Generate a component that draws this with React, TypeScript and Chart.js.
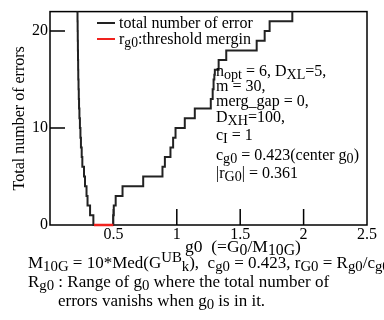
import React, { useEffect, useRef } from 'react';
import { Chart, registerables } from 'chart.js';

Chart.register(...registerables);

// ---- data ----
// stepped curve: level errY[i] holds from errX[i] to errX[i+1]
const errX = [
  0.212, 0.2155, 0.217, 0.218, 0.219, 0.22, 0.221, 0.222, 0.223, 0.225, 0.227, 0.229, 0.232,
  0.236, 0.24, 0.244, 0.25, 0.255, 0.268, 0.276, 0.288, 0.296, 0.316, 0.342,
  0.498, 0.503, 0.518, 0.572, 0.735, 0.887, 0.906, 0.95, 0.971, 0.99, 1.063, 1.142,
  1.268, 1.283, 1.29, 1.296, 1.3, 1.33, 1.39, 1.63, 1.693, 1.732, 1.911,
];
const errY = [
  24, 22, 21, 20, 19, 18, 17, 16, 15, 14, 13, 12, 11,
  10, 9, 8, 7, 6, 5, 4, 3, 2, 1, 0,
  1, 2, 3, 4, 5, 6, 7, 8, 9, 10, 11, 12,
  13, 14, 15, 15.5, 16, 17, 18, 19, 20, 21, 24,
];
const marginX = [0.347, 0.499];
const marginY = [0, 0];
const xMin = 0;
const xMax = 2.5;
const xStep = 0.5;
const yMin = 0;
const yMax = 22;
const yStep = 10;

const FONT = '"Liberation Serif", "Times New Roman", serif';
const RED = '#f0221e';
const CURVE = '#222';

type Seg = { t: string; s?: 'sub' | 'sup' };

function drawRich(
  ctx: CanvasRenderingContext2D,
  segs: Seg[],
  x: number,
  y: number,
  size: number,
  k = 0.8
) {
  let cx = x;
  ctx.textBaseline = 'alphabetic';
  ctx.textAlign = 'left';
  for (const seg of segs) {
    const fs = seg.s ? size * k : size;
    const dy = seg.s === 'sub' ? size * 0.18 : seg.s === 'sup' ? -size * 0.33 : 0;
    ctx.font = `${fs}px ${FONT}`;
    ctx.fillText(seg.t, cx, y + dy);
    cx += ctx.measureText(seg.t).width;
  }
}

const notes: Seg[][] = [
  [{ t: 'n' }, { t: 'opt', s: 'sub' }, { t: ' = 6, D' }, { t: 'XL', s: 'sub' }, { t: '=5,' }],
  [{ t: 'm = 30,' }],
  [{ t: 'merg_gap = 0,' }],
  [{ t: 'D' }, { t: 'XH', s: 'sub' }, { t: '=100,' }],
  [{ t: 'c' }, { t: 'I', s: 'sub' }, { t: ' = 1' }],
  [{ t: 'c' }, { t: 'g0', s: 'sub' }, { t: ' = 0.423(center g' }, { t: '0', s: 'sub' }, { t: ')' }],
  [{ t: '|r' }, { t: 'G0', s: 'sub' }, { t: '| = 0.361' }],
];
const noteY = [76, 91, 106, 122, 140, 160, 178];

const caption: { segs: Seg[]; x: number; y: number }[] = [
  {
    segs: [
      { t: 'M' }, { t: '10G', s: 'sub' }, { t: ' = 10*Med(G' }, { t: 'UB', s: 'sup' }, { t: 'k', s: 'sub' },
      { t: '),  c' }, { t: 'g0', s: 'sub' }, { t: ' = 0.423, r' }, { t: 'G0', s: 'sub' }, { t: ' = R' },
      { t: 'g0', s: 'sub' }, { t: '/c' }, { t: 'g0', s: 'sub' },
    ],
    x: 28,
    y: 268,
  },
  {
    segs: [{ t: 'R' }, { t: 'g0', s: 'sub' }, { t: ' : Range of g' }, { t: '0', s: 'sub' }, { t: ' where the total number of' }],
    x: 28,
    y: 287,
  },
  {
    segs: [{ t: 'errors vanishs when g' }, { t: '0', s: 'sub' }, { t: ' is in it.' }],
    x: 58,
    y: 306,
  },
];

const framePlugin = {
  id: 'frame',
  beforeDatasetsDraw(chart: any) {
    const { ctx, chartArea: a, scales } = chart;
    ctx.save();
    ctx.strokeStyle = '#000';
    ctx.lineWidth = 1.5;
    ctx.strokeRect(a.left, a.top, a.right - a.left, a.bottom - a.top);
    ctx.beginPath();
    for (const t of scales.x.ticks) {
      if (t.value <= xMin || t.value >= xMax) continue;
      const px = scales.x.getPixelForValue(t.value);
      ctx.moveTo(px, a.bottom);
      ctx.lineTo(px, a.bottom - 16);
    }
    for (const t of scales.y.ticks) {
      if (t.value <= yMin || t.value >= yMax) continue;
      const py = scales.y.getPixelForValue(t.value);
      ctx.moveTo(a.left, py);
      ctx.lineTo(a.left + 15, py);
    }
    ctx.stroke();
    ctx.restore();
  },
};

const textPlugin = {
  id: 'texts',
  afterDraw(chart: any) {
    const { ctx, data } = chart;
    ctx.save();
    ctx.fillStyle = '#000';
    // legend
    const legendRows: { color: string; segs: Seg[]; y: number }[] = [
      { color: CURVE, segs: [{ t: data.datasets[0].label }], y: 23 },
      { color: RED, segs: [{ t: 'r' }, { t: 'g0', s: 'sub' }, { t: ':threshold mergin' }], y: 39 },
    ];
    for (const r of legendRows) {
      ctx.strokeStyle = r.color;
      ctx.lineWidth = 2;
      ctx.beginPath();
      ctx.moveTo(97, r.y);
      ctx.lineTo(115, r.y);
      ctx.stroke();
      drawRich(ctx, r.segs, 119, r.y + 5, 16, 0.85);
    }
    // parameter notes
    notes.forEach((segs, i) => drawRich(ctx, segs, 216, noteY[i], 16, 0.88));
    // x axis title
    drawRich(
      ctx,
      [{ t: 'g0  (=G' }, { t: '0', s: 'sub' }, { t: '/M' }, { t: '10G', s: 'sub' }, { t: ')' }],
      185,
      252,
      17.5,
      0.9
    );
    // caption
    for (const c of caption) drawRich(ctx, c.segs, c.x, c.y, 17, 0.87);
    ctx.restore();
  },
};

export default function App() {
  const ref = useRef<HTMLCanvasElement | null>(null);
  useEffect(() => {
    if (!ref.current) return;
    Chart.defaults.font.family = FONT;
    Chart.defaults.color = '#000';
    const chart = new Chart(ref.current, {
      type: 'line',
      data: {
        datasets: [
          {
            label: 'total number of error',
            data: errX.map((x, i) => ({ x, y: errY[i] })),
            stepped: 'before',
            borderColor: CURVE,
            borderWidth: 2,
            pointRadius: 0,
            fill: false,
            order: 2,
            clip: { left: 2, top: 0, right: 0, bottom: 3 } as any,
          },
          {
            label: 'rg0:threshold mergin',
            data: marginX.map((x, i) => ({ x, y: marginY[i] })),
            borderColor: RED,
            borderWidth: 2.5,
            pointRadius: 0,
            fill: false,
            order: 1,
            clip: { left: 2, top: 0, right: 0, bottom: 3 } as any,
          },
        ],
      },
      options: {
        responsive: false,
        animation: false,
        events: [],
        layout: { padding: { left: 0, top: 10, right: 17, bottom: 0 } },
        plugins: { legend: { display: false }, tooltip: { enabled: false } },
        scales: {
          x: {
            type: 'linear',
            min: xMin,
            max: xMax,
            grid: { display: false, drawTicks: false },
            border: { display: false },
            ticks: {
              stepSize: xStep,
              includeBounds: false,
              autoSkip: false,
              maxRotation: 0,
              padding: 0,
              color: '#000',
              font: { size: 16, family: FONT },
              callback: (v: any) => (Number(v) === 0 ? '' : String(v)),
            },
            afterFit: (s: any) => {
              s.height = 95;
            },
          },
          y: {
            type: 'linear',
            min: yMin,
            max: yMax,
            grid: { display: false, drawTicks: false },
            border: { display: false },
            ticks: {
              stepSize: yStep,
              includeBounds: false,
              padding: 2,
              color: '#000',
              font: { size: 16, family: FONT },
            },
            title: {
              display: true,
              text: 'Total number of errors',
              color: '#000',
              font: { size: 16, family: FONT },
              padding: { top: 10, bottom: 0 },
            },
            afterFit: (s: any) => {
              s.width = 50;
            },
          },
        },
      } as any,
      plugins: [framePlugin, textPlugin],
    });
    return () => chart.destroy();
  }, []);
  return (
    <div style={{ position: 'fixed', left: 0, top: 0, width: 384, height: 320, background: '#fff' }}>
      <canvas ref={ref} width={384} height={320} style={{ display: 'block' }} />
    </div>
  );
}
